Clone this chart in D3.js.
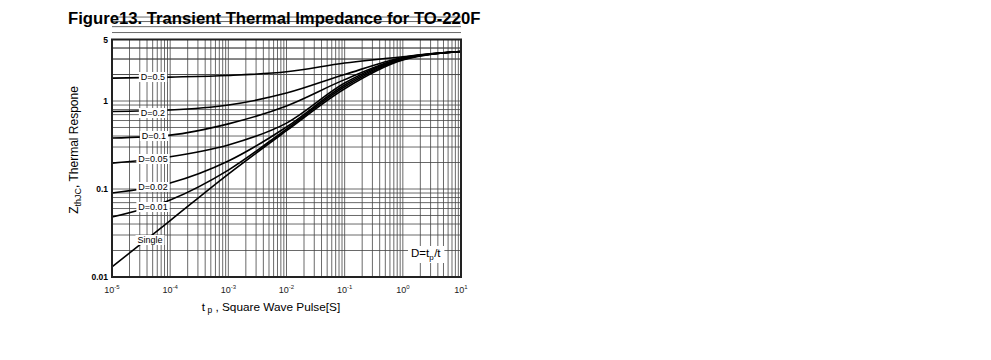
<!DOCTYPE html>
<html><head><meta charset="utf-8">
<script src="https://cdn.jsdelivr.net/npm/d3@7"></script>
<style>body{margin:0;background:#fff}svg{display:block;font-family:"Liberation Sans",Arial,sans-serif}</style>
</head><body><svg id="c" width="991" height="360"></svg>
<script>
const tValues = [1e-5, 1e-4, 1e-3, 1e-2, 1e-1, 1, 10];
const seriesNames = ["D=0.5","D=0.2","D=0.1","D=0.05","D=0.02","D=0.01","Single"];
const zD05   = [1.82, 1.87, 1.95, 2.15, 2.70, 3.19, 3.65];
const zD02   = [0.76, 0.79, 0.90, 1.23, 2.00, 3.12, 3.65];
const zD01   = [0.38, 0.41, 0.55, 0.88, 1.75, 3.08, 3.65];
const zD005  = [0.197,0.233,0.316,0.56, 1.60, 3.04, 3.65];
const zD002  = [0.090,0.117,0.208,0.507,1.52, 3.00, 3.65];
const zD001  = [0.048,0.075,0.164,0.48, 1.45, 2.96, 3.65];
const zSingle= [0.0130,0.0438,0.148,0.46,1.38,2.92,3.65];
const xTickExp = [-5,-4,-3,-2,-1,0,1];
const yTickLabels = [[5,"5"],[1,"1"],[0.1,"0.1"],[0.01,"0.01"]];

const svg = d3.select("#c");
const L=112, R=461, T=39.5, B=277;
const x = d3.scaleLog().domain([1e-5,10]).range([L,R]);
const y = d3.scaleLog().domain([0.01,5]).range([B,T]);

// grid
const xMinor=[]; for(let e=-5;e<1;e++) for(let m=1;m<=9;m++) xMinor.push(m*Math.pow(10,e));
const yMinor=[]; for(let e=-2;e<1;e++) for(let m=1;m<=9;m++) yMinor.push(m*Math.pow(10,e));
[2,3,4].forEach(m=>yMinor.push(m));
const g = svg.append("g");
g.selectAll(".vx").data(xMinor).enter().append("line")
 .attr("x1",d=>x(d)).attr("x2",d=>x(d)).attr("y1",T).attr("y2",B)
 .attr("stroke","#444").attr("stroke-width",0.8);
g.selectAll(".hy").data(yMinor).enter().append("line")
 .attr("y1",d=>y(d)).attr("y2",d=>y(d)).attr("x1",L).attr("x2",R)
 .attr("stroke","#444").attr("stroke-width",0.8);

// curves
const all=[zD05,zD02,zD01,zD005,zD002,zD001,zSingle];
const line=d3.line().x((d,i)=>x(tValues[i])).y(d=>y(d)).curve(d3.curveMonotoneX);
all.forEach(s=>svg.append("path").attr("d",line(s)).attr("fill","none").attr("stroke","#000").attr("stroke-width",1.6));

// labels
const labelPos=[[153,77],[153,113],[154,136],[153,159],[153,187],[153,207],[150,240]];
seriesNames.forEach((n,i)=>{
  const t=svg.append("text").attr("x",labelPos[i][0]).attr("y",labelPos[i][1]+3)
   .attr("text-anchor","middle").attr("font-size",9).text(n);
  const bb=t.node().getBBox();
  svg.insert("rect",()=>t.node()).attr("x",bb.x-2).attr("y",bb.y).attr("width",bb.width+4).attr("height",bb.height).attr("fill","#fff");
});
{
  const t=svg.append("text").attr("x",411).attr("y",257).attr("font-size",11.5);
  t.append("tspan").text("D=t");
  t.append("tspan").attr("font-size",8).attr("dy",3).text("p");
  t.append("tspan").attr("dy",-3).attr("dx",0.5).text("/t");
  const bb=t.node().getBBox();
  svg.insert("rect",()=>t.node()).attr("x",bb.x-3).attr("y",bb.y-1).attr("width",bb.width+6).attr("height",bb.height+2).attr("fill","#fff");
}

// frame
svg.append("rect").attr("x",L).attr("y",T).attr("width",R-L).attr("height",B-T).attr("fill","none").attr("stroke","#222").attr("stroke-width",2);

// ticks
xTickExp.forEach(e=>{
  const t=svg.append("text").attr("x",x(Math.pow(10,e))).attr("y",293).attr("text-anchor","middle").attr("font-size",9).attr("fill","#222");
  t.append("tspan").text("10");
  t.append("tspan").attr("font-size",6).attr("dy",-4).text(e);
});
yTickLabels.forEach(([v,s])=>{
  svg.append("text").attr("x",L-4).attr("y",y(v)+3).attr("text-anchor","end").attr("font-size",8.5).attr("font-weight","bold").text(s);
});

// axis titles
{
  const t=svg.append("text").attr("x",271).attr("y",311).attr("text-anchor","middle").attr("font-size",11.8);
  t.append("tspan").text("t");
  t.append("tspan").attr("font-size",8.5).attr("dy",2).text(" p");
  t.append("tspan").attr("dy",-2).text(" ,   Square Wave Pulse[S]");
}
{
  const t=svg.append("text").attr("transform","translate(78,150) rotate(-90)").attr("text-anchor","middle").attr("font-size",12);
  t.append("tspan").text("Z");
  t.append("tspan").attr("font-size",9).attr("dy",3).text("thJC");
  t.append("tspan").attr("dy",-3).text(", Thermal Respone");
}
svg.append("text").attr("x",68).attr("y",24).attr("font-size",16.7).attr("font-weight","bold").text("Figure13. Transient Thermal Impedance for TO-220F");
</script></body></html>
